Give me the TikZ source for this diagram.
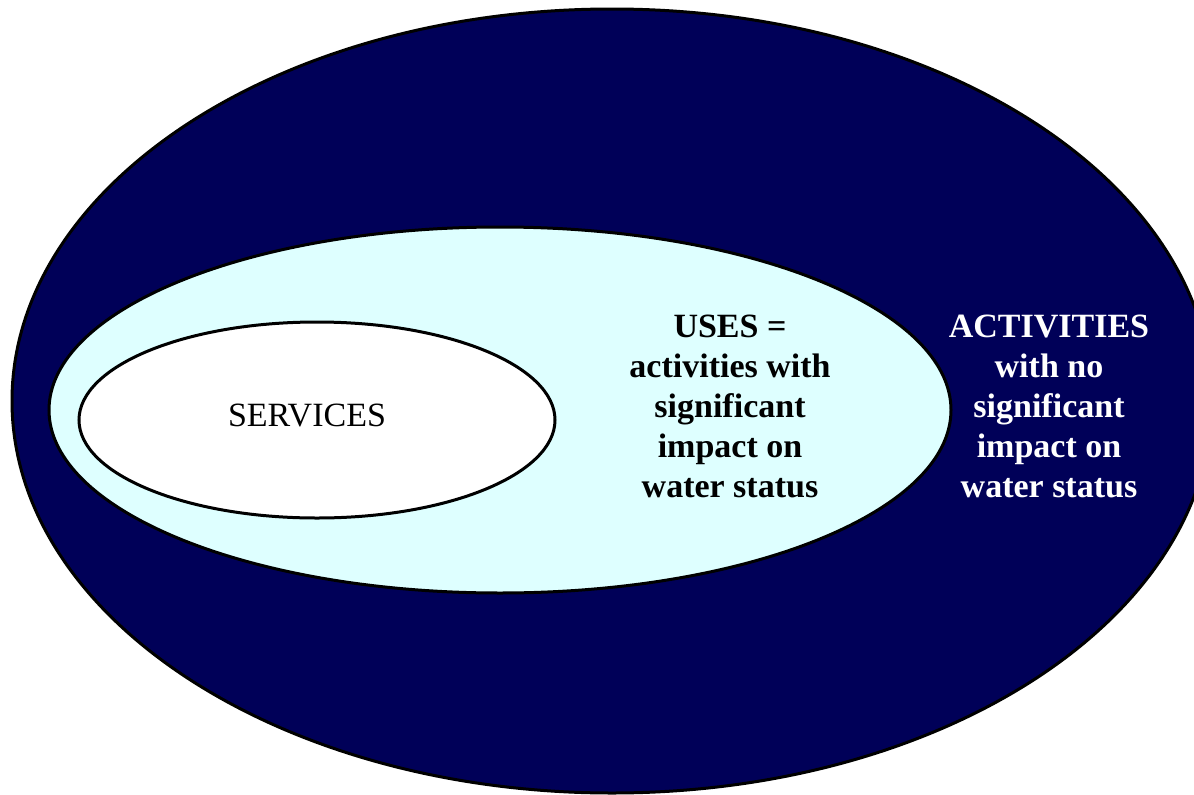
\documentclass[tikz,border=0pt]{standalone}
\usepackage{fontspec}
\setmainfont{Liberation Serif}
\definecolor{navy}{RGB}{0,0,88}
\definecolor{paleCyan}{RGB}{222,255,255}
\tikzset{
  ring/.style={draw=black, line width=3pt},
  lbl/.style={align=center, font=\fontsize{34}{40}\selectfont\bfseries, inner sep=0pt},
}
\begin{document}
\begin{tikzpicture}[x=1pt,y=-1pt]
\useasboundingbox (0,0) rectangle (1194,795);
\clip (0,0) rectangle (1194,795);
\fill[white] (0,0) rectangle (1194,795);
\draw[ring, fill=navy] (612,401) ellipse [x radius=600, y radius=392];
\draw[ring, fill=paleCyan] (500,410) ellipse [x radius=451, y radius=183];
\draw[ring, fill=white] (317,420) ellipse [x radius=238, y radius=98];
\node[inner sep=0pt, font=\fontsize{34}{40}\selectfont] (services) at (307,415) {SERVICES};
\node[lbl] (uses) at (730,406) {USES =\\activities with\\significant\\impact on\\water status};
\node[lbl, text=white] (activities) at (1049,406) {ACTIVITIES\\with no\\significant\\impact on\\water status};
\end{tikzpicture}
\end{document}
